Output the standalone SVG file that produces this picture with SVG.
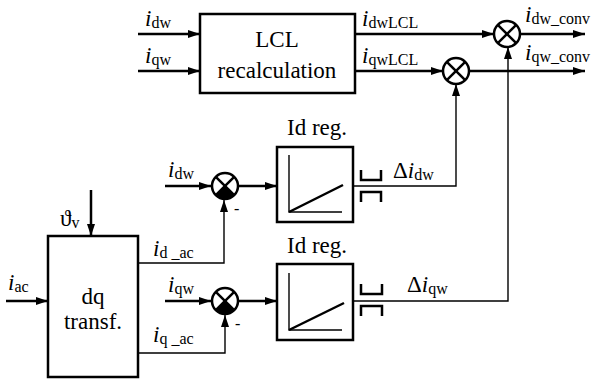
<svg xmlns="http://www.w3.org/2000/svg" width="593" height="382" viewBox="0 0 593 382" font-family="'Liberation Serif', 'DejaVu Serif', serif">
<defs>
<style>
.blk{fill:#fff;stroke:#000;stroke-width:2.5}
.thk{fill:none;stroke:#000;stroke-width:2.5}
.thn{fill:none;stroke:#000;stroke-width:1.4}
.sum{fill:#fff;stroke:#000;stroke-width:2.5}
.x{stroke:#000;stroke-width:2.5}
.t{font-family:'Liberation Serif','DejaVu Serif',serif;font-size:23px;fill:#000}
.it{font-style:italic}
.sb{font-size:16px}
.mid{text-anchor:middle}
</style>
<marker id="ah" viewBox="0 0 12 8" refX="12" refY="4" markerWidth="12" markerHeight="8" markerUnits="userSpaceOnUse" orient="auto">
<path d="M0,0 L12,4 L0,8 Z" fill="#000"/>
</marker>
</defs>

<g id="connectors">
<line class="thk" x1="138" y1="34" x2="200" y2="34" marker-end="url(#ah)"/>
<line class="thk" x1="138" y1="71" x2="200" y2="71" marker-end="url(#ah)"/>
<line class="thk" x1="355" y1="34" x2="494" y2="34" marker-end="url(#ah)"/>
<line class="thk" x1="355" y1="71" x2="443" y2="71" marker-end="url(#ah)"/>
<line class="thk" x1="520" y1="34" x2="585" y2="34" marker-end="url(#ah)"/>
<line class="thk" x1="469" y1="71" x2="585" y2="71" marker-end="url(#ah)"/>
<polyline class="thn" points="353,186 456,186 456,84" marker-end="url(#ah)"/>
<polyline class="thn" points="353,301 508,301 508,47" marker-end="url(#ah)"/>
<line class="thk" x1="165" y1="186" x2="211" y2="186" marker-end="url(#ah)"/>
<line class="thk" x1="239" y1="186" x2="277" y2="186" marker-end="url(#ah)"/>
<line class="thk" x1="165" y1="301" x2="211" y2="301" marker-end="url(#ah)"/>
<line class="thk" x1="239" y1="301" x2="277" y2="301" marker-end="url(#ah)"/>
<polyline class="thn" points="138,263 224,263 224,200" marker-end="url(#ah)"/>
<polyline class="thn" points="138,353 225,353 225,315" marker-end="url(#ah)"/>
<line class="thk" x1="6" y1="301" x2="48" y2="301" marker-end="url(#ah)"/>
<line class="thk" x1="91" y1="190" x2="91" y2="236" marker-end="url(#ah)"/>
</g>

<g id="lcl">
<rect class="blk" x="200" y="14" width="155" height="79"/>
<text class="t mid" x="277" y="47">LCL</text>
<text class="t mid" x="277" y="78">recalculation</text>
</g>

<g id="sum1">
<circle class="sum" cx="507" cy="34" r="13"/>
<line class="x" x1="497.8" y1="24.8" x2="516.2" y2="43.2"/>
<line class="x" x1="516.2" y1="24.8" x2="497.8" y2="43.2"/>
</g>
<g id="sum2">
<circle class="sum" cx="456" cy="71" r="13"/>
<line class="x" x1="446.8" y1="61.8" x2="465.2" y2="80.2"/>
<line class="x" x1="465.2" y1="61.8" x2="446.8" y2="80.2"/>
</g>
<g id="sum3">
<circle class="sum" cx="225" cy="186" r="13"/>
<path d="M225,186 L215.8,195.2 A13,13 0 0 0 234.2,195.2 Z" fill="#000"/>
<line class="x" x1="215.8" y1="176.8" x2="234.2" y2="195.2"/>
<line class="x" x1="234.2" y1="176.8" x2="215.8" y2="195.2"/>
</g>
<g id="sum4">
<circle class="sum" cx="225" cy="301" r="13"/>
<path d="M225,301 L215.8,310.2 A13,13 0 0 0 234.2,310.2 Z" fill="#000"/>
<line class="x" x1="215.8" y1="291.8" x2="234.2" y2="310.2"/>
<line class="x" x1="234.2" y1="291.8" x2="215.8" y2="310.2"/>
</g>

<g id="reg1">
<rect class="blk" x="277" y="147" width="76" height="75"/>
<polyline class="thn" points="289,155 289,212 342,212"/>
<line class="thk" x1="289" y1="212" x2="343" y2="185"/>
<text class="t mid" x="317" y="135">Id reg.</text>
<polyline class="thk" points="361,170 361,180 381,180 381,170"/>
<polyline class="thk" points="361,202 361,192 381,192 381,202"/>
</g>
<g id="reg2">
<rect class="blk" x="277" y="264" width="76" height="76"/>
<polyline class="thn" points="289,273 289,330 342,330"/>
<line class="thk" x1="289" y1="330" x2="344" y2="303"/>
<text class="t mid" x="317" y="253">Id reg.</text>
<polyline class="thk" points="361,284 361,294 382,294 382,284"/>
<polyline class="thk" points="361,316 361,306 382,306 382,316"/>
</g>

<g id="dq">
<rect class="blk" x="48" y="236" width="90" height="141"/>
<text class="t mid" x="93" y="304">dq</text>
<text class="t mid" x="93" y="329">transf.</text>
</g>

<g id="labels">
<text class="t" x="145" y="26"><tspan class="it">i</tspan><tspan class="sb" dy="2">dw</tspan></text>
<text class="t" x="145" y="63"><tspan class="it">i</tspan><tspan class="sb" dy="2">qw</tspan></text>
<text class="t" x="362" y="26"><tspan class="it">i</tspan><tspan class="sb" dy="2">dwLCL</tspan></text>
<text class="t" x="362" y="63"><tspan class="it">i</tspan><tspan class="sb" dy="2">qwLCL</tspan></text>
<text class="t" x="525" y="22"><tspan class="it">i</tspan><tspan class="sb" dy="2">dw_conv</tspan></text>
<text class="t" x="525" y="60"><tspan class="it">i</tspan><tspan class="sb" dy="2">qw_conv</tspan></text>
<text class="t" x="168" y="177"><tspan class="it">i</tspan><tspan class="sb" dy="2">dw</tspan></text>
<text class="t" x="168" y="292"><tspan class="it">i</tspan><tspan class="sb" dy="2">qw</tspan></text>
<text class="t" x="393" y="178">Δ<tspan class="it">i</tspan><tspan class="sb" dy="2">dw</tspan></text>
<text class="t" x="407" y="292">Δ<tspan class="it">i</tspan><tspan class="sb" dy="2">qw</tspan></text>
<text class="t" x="153" y="256"><tspan class="it">i</tspan><tspan class="sb" dy="2">d _ac</tspan></text>
<text class="t" x="153" y="342"><tspan class="it">i</tspan><tspan class="sb" dy="2">q _ac</tspan></text>
<text class="t" x="8" y="290"><tspan class="it">i</tspan><tspan class="sb" dy="2">ac</tspan></text>
<text class="t" x="60" y="226">ϑ<tspan class="sb" dy="2">v</tspan></text>
<text class="t sb" x="234" y="214">-</text>
<text class="t sb" x="235" y="329">-</text>
</g>
</svg>
